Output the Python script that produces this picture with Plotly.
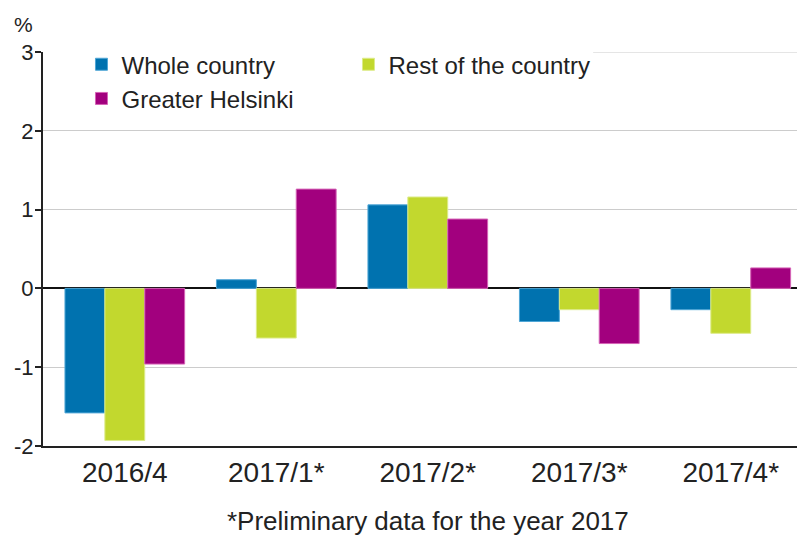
import plotly.graph_objects as go

categories = ["2016/4", "2017/1*", "2017/2*", "2017/3*", "2017/4*"]
whole_country = [-1.58, 0.11, 1.06, -0.42, -0.27]
rest_of_country = [-1.93, -0.63, 1.16, -0.27, -0.57]
greater_helsinki = [-0.96, 1.26, 0.88, -0.70, 0.26]
y_tick_values = [-2, -1, 0, 1, 2, 3]
y_tick_labels = ["-2", "-1", "0", "1", "2", "3"]

series = [
    ("Whole country", whole_country, "#0072AF", "#4FA6D6"),
    ("Rest of the country", rest_of_country, "#C2D82E", "#DDEB8A"),
    ("Greater Helsinki", greater_helsinki, "#A2007E", "#D563B6"),
]

FONT = "Liberation Sans, Arial, sans-serif"
TXT = "#222222"

fig = go.Figure()
for name, vals, col, lc in series:
    fig.add_trace(go.Bar(
        x=categories, y=vals, name=name,
        marker=dict(color=col, line=dict(color=lc, width=1)),
    ))

# page body has an 8px default margin, so the figure is 797x528 and offset
fig.update_layout(
    width=797, height=528,
    margin=dict(l=35, r=0, t=44, b=90, autoexpand=False),
    paper_bgcolor="white", plot_bgcolor="white",
    barmode="group", bargap=0.21, bargroupgap=0,
    font=dict(family=FONT, size=22, color=TXT),
    showlegend=True,
    legend=dict(
        orientation="h", x=0.0505, y=1.025, xanchor="left", yanchor="top",
        bgcolor="rgba(0,0,0,0)", entrywidth=222, entrywidthmode="pixels",
        font=dict(size=24, color=TXT), traceorder="normal",
        itemwidth=30, tracegroupgap=0,
    ),
    xaxis=dict(
        range=[-0.54, 4.49], showline=True, linecolor=TXT, linewidth=2,
        ticks="", showgrid=False, tickfont=dict(size=28), automargin=False,
    ),
    yaxis=dict(
        range=[-2, 3], tickmode="array", tickvals=y_tick_values,
        ticktext=y_tick_labels, showline=True, linecolor=TXT, linewidth=2,
        ticks="outside", ticklen=6, tickcolor=TXT, tickwidth=1.5,
        ticklabelstandoff=-3,
        showgrid=True, gridcolor="#CCCCCC", gridwidth=1,
        zeroline=True, zerolinecolor="#111111", zerolinewidth=1.5,
        tickfont=dict(size=22), automargin=False,
    ),
    shapes=[
        dict(type="line", xref="paper", yref="y", x0=0.722, x1=1.0, y0=3, y1=3,
             line=dict(color="#CCCCCC", width=1), layer="below"),
    ],
    annotations=[
        dict(text="%", x=0.0, y=1.0, xref="paper", yref="paper",
             showarrow=False, xanchor="center", yanchor="middle",
             xshift=-20, yshift=28, font=dict(size=21, color=TXT)),
        dict(text="*Preliminary data for the year 2017", x=0.5, y=0,
             xref="paper", yref="paper", showarrow=False, xanchor="center",
             yanchor="middle", xshift=4, yshift=-75,
             font=dict(size=26, color=TXT)),
    ],
)

fig.write_html("out.html")
